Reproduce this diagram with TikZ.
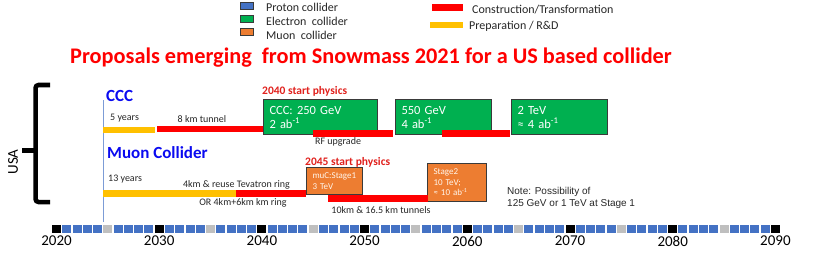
\documentclass[tikz,border=0pt]{standalone}
\usepackage{fontspec}
\setmainfont{Carlito}
\newfontfamily\arialf{Liberation Sans}
\definecolor{pblue}{HTML}{4472C4}
\definecolor{egreen}{HTML}{00B050}
\definecolor{morange}{HTML}{ED7D31}
\definecolor{cred}{HTML}{FF0000}
\definecolor{pyellow}{HTML}{FFC000}
\definecolor{tgrey}{HTML}{BFBFBF}
\definecolor{labred}{HTML}{E0201C}
\definecolor{hblue}{HTML}{0A0AF0}
\definecolor{bord}{HTML}{3A3A3A}
\definecolor{txt}{HTML}{262626}
\tikzset{
  small/.style={font=\fontsize{10}{12}\selectfont, text=txt, inner sep=0pt},
  legtxt/.style={font=\fontsize{12}{14}\selectfont, text=txt, inner sep=0pt, anchor=west},
  legsq/.style={draw=bord, line width=0.8pt, minimum width=13pt, minimum height=7pt, inner sep=0pt},
  startlab/.style={font=\bfseries\fontsize{11.5}{13}\selectfont, text=labred, inner sep=0pt, anchor=west},
  headlab/.style={font=\bfseries\fontsize{17}{19}\selectfont, text=hblue, inner sep=0pt, anchor=west},
  gbox/.style={draw=bord, line width=1pt, fill=egreen, text=white, font=\fontsize{12.5}{14}\selectfont,
     align=left, inner xsep=6pt, inner ysep=0pt, minimum height=35pt, anchor=north west},
  obox/.style={draw=bord, line width=1pt, fill=morange, text=white!92!orange, align=left,
     inner xsep=6pt, inner ysep=0pt, anchor=north west},
  yearlab/.style={font=\fontsize{15}{17}\selectfont, text=black, inner sep=0pt},
}
\begin{document}
\begin{tikzpicture}[x=1pt,y=-1pt]
\useasboundingbox (0,0) rectangle (814,254);

% legend
\node[legsq, fill=pblue] (lp) at (246.5,5.5) {};
\node[legsq, fill=egreen] (le) at (246.5,18.5) {};
\node[legsq, fill=morange] (lm) at (246.5,32) {};
\node[legtxt] (lpt) at (266,7) {Proton collider};
\node[legtxt] (let) at (266,21) {Electron\ \ collider};
\node[legtxt] (lmt) at (266,35) {Muon\ \ collider};
\node[fill=cred, minimum width=31pt, minimum height=7pt, inner sep=0pt] (lr) at (447.5,7.5) {};
\node[fill=pyellow, minimum width=33pt, minimum height=6pt, inner sep=0pt] (ly) at (446.5,25) {};
\node[legtxt] (lrt) at (472,10) {Construction/Transformation};
\node[legtxt] (lyt) at (469,26) {Preparation / R\&D};

% title
\node[font=\bfseries\fontsize{22.3}{25}\selectfont, text=cred, inner sep=0pt] (title) at (371,58)
  {Proposals emerging\ \ from Snowmass 2021 for a US based collider};

% bracket
\draw[line width=4.5pt, rounded corners=3pt] (50,85) -- (35.5,85) -- (35.5,202) -- (50,202);
\draw[line width=5pt] (35.5,150) -- (22,150);
\node[rotate=90, font=\fontsize{15}{17}\selectfont, inner sep=0pt] (usa) at (13,162) {USA};

% vertical 2025 line
\coordinate (vtop) at (103,100);
\coordinate (vbot) at (103,222);
\draw[pblue!70, line width=1pt] (vtop) -- (vbot);

% CCC
\node[headlab] (ccc) at (106,96) {CCC};
\node[small, anchor=west] (y5) at (110,118) {5 years};
\node[small] (t8) at (202,119) {8 km tunnel};
\fill[pyellow] (103,127) rectangle (155,133);
\fill[cred] (157,126) rectangle (263,132);
\node[startlab] (s2040) at (262,91) {2040 start physics};
\node[gbox, text width=102pt] (g1) at (263,99) {CCC: 250 GeV\\2 ab\textsuperscript{-1}};
\node[gbox, text width=84pt] (g2) at (395,99) {550 GeV\\4 ab\textsuperscript{-1}};
\node[gbox, text width=84pt] (g3) at (511,99) {2 TeV\\≈ 4 ab\textsuperscript{-1}};
\fill[cred] (313,130) rectangle (393,137);
\fill[cred] (442,130) rectangle (510,137);
\node[small, anchor=west] (rf) at (315,142) {RF upgrade};

% Muon
\node[headlab] (muc) at (107,153) {Muon Collider};
\node[small, anchor=west] (y13) at (108,179) {13 years};
\node[small] (tev) at (236.5,185) {4km \& reuse Tevatron ring};
\node[small] (orr) at (243,203) {OR 4km+6km km ring};
\fill[pyellow] (103,190) rectangle (236,197);
\fill[cred] (236,190) rectangle (306,197);
\node[startlab] (s2045) at (305,162) {2045 start physics};
\node[obox, text width=44pt, minimum height=27pt, font=\fontsize{9}{11}\selectfont] (o1) at (306,167) {muC:Stage1\\3 TeV};
\node[obox, text width=47pt, minimum height=38pt, font=\fontsize{9}{10.5}\selectfont] (o2) at (427,163) {Stage2\\10 TeV;\\≈ 10 ab\textsuperscript{-1}};
\fill[cred] (328,195) rectangle (428,202);
\node[small] (tun) at (381,210) {10km \& 16.5 km tunnels};

% note
\node[font=\arialf\fontsize{10}{12}\selectfont, text=txt, align=left, inner sep=0pt, anchor=west] (note) at (507,198)
  {Note: Possibility of\\125 GeV or 1 TeV at Stage 1};

% timeline
\foreach \i in {0,...,70} {
  \pgfmathtruncatemacro\m{mod(\i,10)}
  \pgfmathsetmacro\xx{52+\i*10.27}
  \ifnum\m=0
    \fill[black] (\xx,225) rectangle ++(9,7.5);
  \else\ifnum\m=5
    \fill[tgrey] (\xx,225) rectangle ++(9,7.5);
  \else
    \fill[pblue] (\xx,225) rectangle ++(9,7.5);
  \fi\fi
}
\foreach \k in {0,...,7} {
  \pgfmathtruncatemacro\yr{2020+10*\k}
  \pgfmathsetmacro\xx{56.5+\k*102.7}
  \node[yearlab] (yr\k) at (\xx,241) {\yr};
}
\end{tikzpicture}
\end{document}
